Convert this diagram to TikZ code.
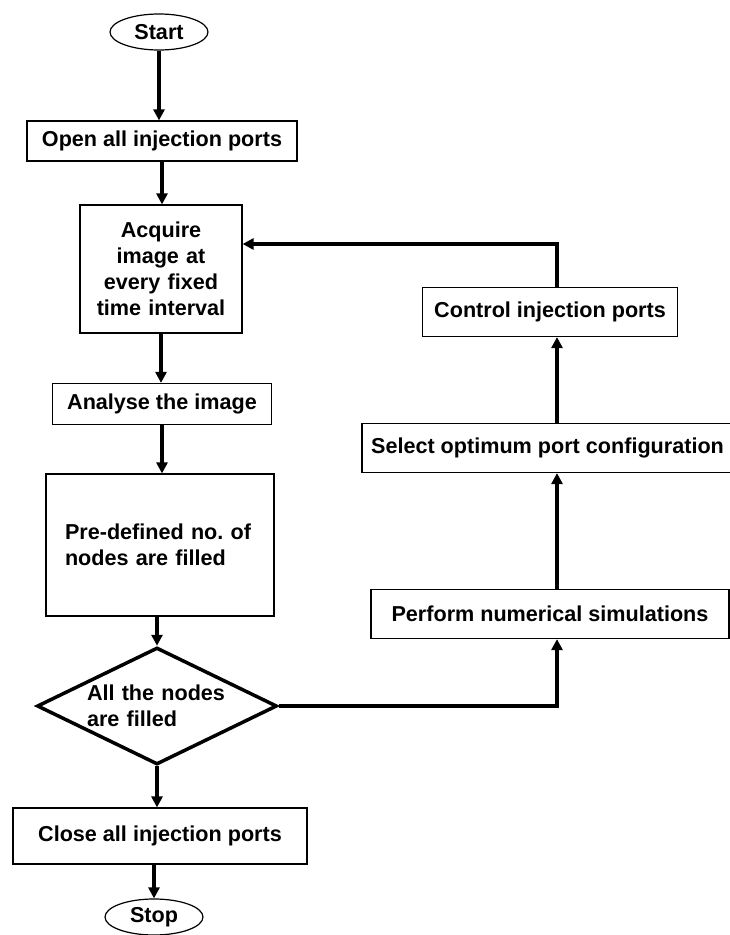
\documentclass[tikz,border=0pt]{standalone}
\usepackage{fontspec}
\setmainfont{Liberation Sans}
\usetikzlibrary{shapes.geometric,arrows.meta}

\begin{document}
\begin{tikzpicture}[x=1pt,y=-1pt,
    every node/.style={font=\fontsize{21.6}{26}\selectfont\bfseries},
    box/.style={draw,line width=1.2pt,inner sep=0pt},
    term/.style={draw,ellipse,line width=1.2pt,minimum width=98pt,minimum height=36pt,inner sep=0pt},
    decide/.style={draw,diamond,line width=3.5pt,aspect=2,inner sep=0pt,minimum width=240pt,minimum height=117pt},
    arr/.style={line width=4pt,-{Triangle[length=11pt,width=11pt]}}]
    \useasboundingbox (0,0) rectangle (730,935);

    \node[term] (start) at (159,32) {Start};
    \node[box,minimum width=270pt,minimum height=40pt] (open) at (162,141) {Open all injection ports};
    \node[box,minimum width=162pt,minimum height=128pt,text width=155pt,align=center] (acquire) at (161,269) {Acquire\\image at\\every fixed\\time interval};
    \node[box,minimum width=219pt,minimum height=41pt] (analyse) at (162,404) {Analyse the image};
    \node[box,minimum width=228pt,minimum height=142pt,text width=190pt,align=left] (predef) at (160,545) {Pre-defined no.\ of\\nodes are filled};
    \node[decide,text width=140pt,align=left] (check) at (157,706) {All the nodes\\are filled};
    \node[box,minimum width=294pt,minimum height=56pt] (close) at (160,836) {Close all injection ports};
    \node[term] (stop) at (154,917) {Stop};

    \node[box,minimum width=358pt,minimum height=49pt] (perform) at (550,614) {Perform numerical simulations};
    \node[box,minimum width=371pt,minimum height=49pt] (select) at (547.5,448) {Select optimum port configuration};
    \node[box,minimum width=255pt,minimum height=49pt] (control) at (550,312) {Control injection ports};
    \coordinate (rc) at (557,0);

    \draw[arr] (start.south) -- (start.south |- open.north);
    \draw[arr] (open.south) -- (open.south |- acquire.north);
    \draw[arr] (acquire.south) -- (acquire.south |- analyse.north);
    \draw[arr] (analyse.south) -- (analyse.south |- predef.north);
    \draw[arr] (check.north |- predef.south) -- (check.north);
    \draw[arr] (check.south) -- (check.south |- close.north);
    \draw[arr] (stop.north |- close.south) -- (stop.north);

    \draw[arr] (check.east) -| (rc |- perform.south);
    \draw[arr] (rc |- perform.north) -- (rc |- select.south);
    \draw[arr] (rc |- select.north) -- (rc |- control.south);
    \draw[arr] (rc |- control.north) |- ([yshift=25pt]acquire.east);
\end{tikzpicture}
\end{document}
